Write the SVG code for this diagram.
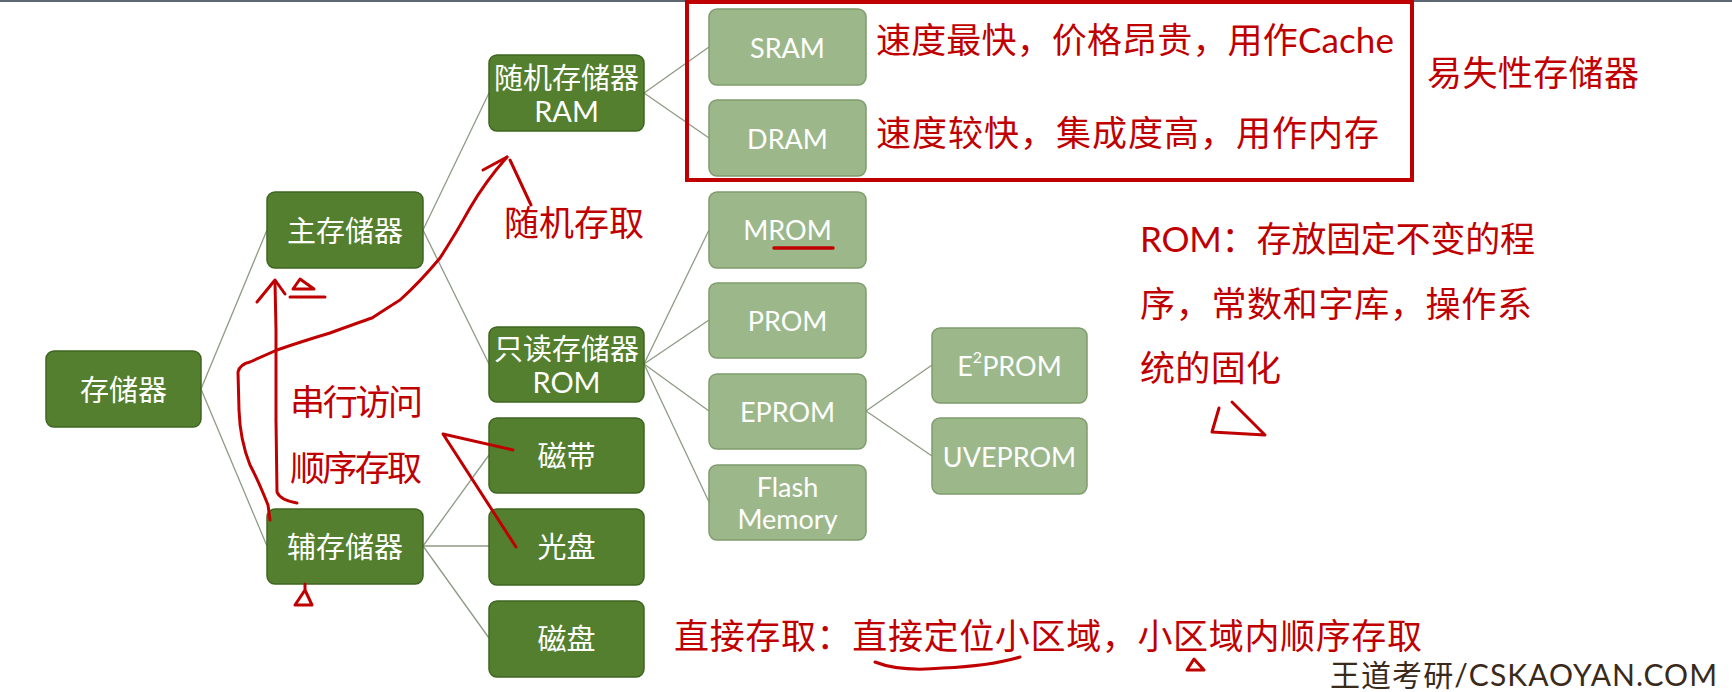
<svg xmlns="http://www.w3.org/2000/svg" width="1732" height="692" viewBox="0 0 1732 692">
<defs>
<style>
.dk{fill:#537f2e;stroke:#3f6520;stroke-width:1.5}
.lt{fill:#9cb88b;stroke:#7f9c6d;stroke-width:1.5}
.nt{fill:#ffffff;font-family:Lato,"Noto Sans CJK SC",sans-serif;font-size:29px;text-anchor:middle;dominant-baseline:central}
.lt2{font-size:27px}
.cn{stroke:#8e9b84;stroke-width:1.3;fill:none}
.rt{fill:#c00000;font-family:Lato,"Noto Sans CJK SC",sans-serif;font-size:35px;dominant-baseline:central}
.ink{stroke:#c00000;stroke-width:3;fill:none;stroke-linecap:round;stroke-linejoin:round}
</style>
</defs>
<rect x="0" y="0" width="1732" height="692" fill="#ffffff"/>
<rect x="0" y="0" width="1732" height="2" fill="#5d6774"/>

<g id="connectors">
<line class="cn" x1="201" y1="389" x2="267" y2="230"/>
<line class="cn" x1="201" y1="389" x2="267" y2="546"/>
<line class="cn" x1="423" y1="230" x2="489" y2="93"/>
<line class="cn" x1="423" y1="230" x2="489" y2="364"/>
<line class="cn" x1="423" y1="546" x2="489" y2="455"/>
<line class="cn" x1="423" y1="546" x2="489" y2="546"/>
<line class="cn" x1="423" y1="546" x2="489" y2="638"/>
<line class="cn" x1="644" y1="93" x2="709" y2="47"/>
<line class="cn" x1="644" y1="93" x2="709" y2="138"/>
<line class="cn" x1="644" y1="364" x2="709" y2="230"/>
<line class="cn" x1="644" y1="364" x2="709" y2="320"/>
<line class="cn" x1="644" y1="364" x2="709" y2="411"/>
<line class="cn" x1="644" y1="364" x2="709" y2="502"/>
<line class="cn" x1="866" y1="411" x2="932" y2="365"/>
<line class="cn" x1="866" y1="411" x2="932" y2="456"/>
</g>

<g id="n-cunchuqi"><rect class="dk" x="46" y="351" width="155" height="76" rx="8"/><text class="nt" x="123.5" y="389">存储器</text></g>
<g id="n-zhucun"><rect class="dk" x="267" y="192" width="156" height="76" rx="8"/><text class="nt" x="345" y="230">主存储器</text></g>
<g id="n-fucun"><rect class="dk" x="267" y="509" width="156" height="75" rx="8"/><text class="nt" x="345" y="546">辅存储器</text></g>
<g id="n-ram"><rect class="dk" x="489" y="55" width="155" height="76" rx="8"/><text class="nt" x="566.5" y="77">随机存储器</text><text class="nt" x="566.5" y="110">RAM</text></g>
<g id="n-rom"><rect class="dk" x="489" y="327" width="155" height="75" rx="8"/><text class="nt" x="566.5" y="348">只读存储器</text><text class="nt" x="566.5" y="381">ROM</text></g>
<g id="n-cidai"><rect class="dk" x="489" y="418" width="155" height="75" rx="8"/><text class="nt" x="566.5" y="455">磁带</text></g>
<g id="n-guangpan"><rect class="dk" x="489" y="509" width="155" height="76" rx="8"/><text class="nt" x="566.5" y="546">光盘</text></g>
<g id="n-cipan"><rect class="dk" x="489" y="601" width="155" height="76" rx="8"/><text class="nt" x="566.5" y="638">磁盘</text></g>
<g id="n-sram"><rect class="lt" x="709" y="9" width="157" height="76" rx="8"/><text class="nt lt2" x="787.5" y="47">SRAM</text></g>
<g id="n-dram"><rect class="lt" x="709" y="100" width="157" height="76" rx="8"/><text class="nt lt2" x="787.5" y="138">DRAM</text></g>
<g id="n-mrom"><rect class="lt" x="709" y="192" width="157" height="76" rx="8"/><text class="nt lt2" x="787.5" y="229">MROM</text></g>
<g id="n-prom"><rect class="lt" x="709" y="283" width="157" height="75" rx="8"/><text class="nt lt2" x="787.5" y="320">PROM</text></g>
<g id="n-eprom"><rect class="lt" x="709" y="374" width="157" height="75" rx="8"/><text class="nt lt2" x="787.5" y="411">EPROM</text></g>
<g id="n-flash"><rect class="lt" x="709" y="465" width="157" height="75" rx="8"/><text class="nt lt2" x="787.5" y="486">Flash</text><text class="nt lt2" x="787.5" y="518">Memory</text></g>
<g id="n-e2prom"><rect class="lt" x="932" y="328" width="155" height="75" rx="8"/><text class="nt lt2" x="1009.5" y="365">E<tspan font-size="16" dy="-9">2</tspan><tspan dy="9">PROM</tspan></text></g>
<g id="n-uveprom"><rect class="lt" x="932" y="418" width="155" height="76" rx="8"/><text class="nt lt2" x="1009.5" y="456">UVEPROM</text></g>

<g id="notes">
<rect x="687" y="2" width="725" height="178" fill="none" stroke="#c00000" stroke-width="4"/>
<text class="rt" x="876" y="39" textLength="518">速度最快，价格昂贵，用作Cache</text>
<text class="rt" x="876" y="132" textLength="503">速度较快，集成度高，用作内存</text>
<text class="rt" x="1427" y="72" textLength="212">易失性存储器</text>
<text class="rt" x="504" y="222" textLength="140">随机存取</text>
<text class="rt" x="1140" y="238" textLength="395">ROM：存放固定不变的程</text>
<text class="rt" x="1140" y="303" textLength="392">序，常数和字库，操作系</text>
<text class="rt" x="1140" y="367" textLength="141">统的固化</text>
<text class="rt" x="674" y="635" textLength="748">直接存取：直接定位小区域，小区域内顺序存取</text>
<text class="rt" x="290" y="401" font-size="33" textLength="133">串行访问</text>
<text class="rt" x="290" y="467" font-size="33" textLength="132">顺序存取</text>
<text x="1330" y="686" textLength="387" font-family="Lato,'Noto Sans CJK SC',sans-serif" font-size="30" fill="#3a2a1c">王道考研/CSKAOYAN.COM</text>
</g>

<g id="ink">
<path class="ink" d="M275 282 L276 330 L276 420 L277 492 Q280 500 297 503"/>
<path class="ink" d="M257 302 L275 280 L285 294"/>
<path class="ink" d="M300 279 L293 289 L314 289 Z M290 297 L325 297"/>
<path class="ink" d="M270 520 L268 505 Q258 480 250 465 Q240 440 239 410 L238 372 Q240 364 250 362 L277 350 Q300 342 330 333 Q360 322 372 318 Q392 305 400 300 Q420 282 440 258 Q455 235 470 208 Q485 182 507 157"/>
<path class="ink" d="M483 170 L507 157"/>
<path class="ink" d="M510 160 L531 205"/>
<path class="ink" stroke-width="2" d="M513 450 L443 434 L516 547"/>
<path class="ink" d="M305 584 L305 590 M305 590 L295 605 L312 605 Z" fill="#c00000"/>
<path class="ink" d="M1219 408 L1212 432 L1265 435 L1232 402"/>
<path class="ink" d="M875 662 Q900 672 943 668 Q990 666 1020 657"/>
<path class="ink" stroke-width="2.5" d="M1194 659 L1187 670 L1204 670 Z"/>
<path stroke="#c00000" stroke-width="3.5" stroke-linecap="round" d="M774 248 L833 248"/>
</g>
</svg>
